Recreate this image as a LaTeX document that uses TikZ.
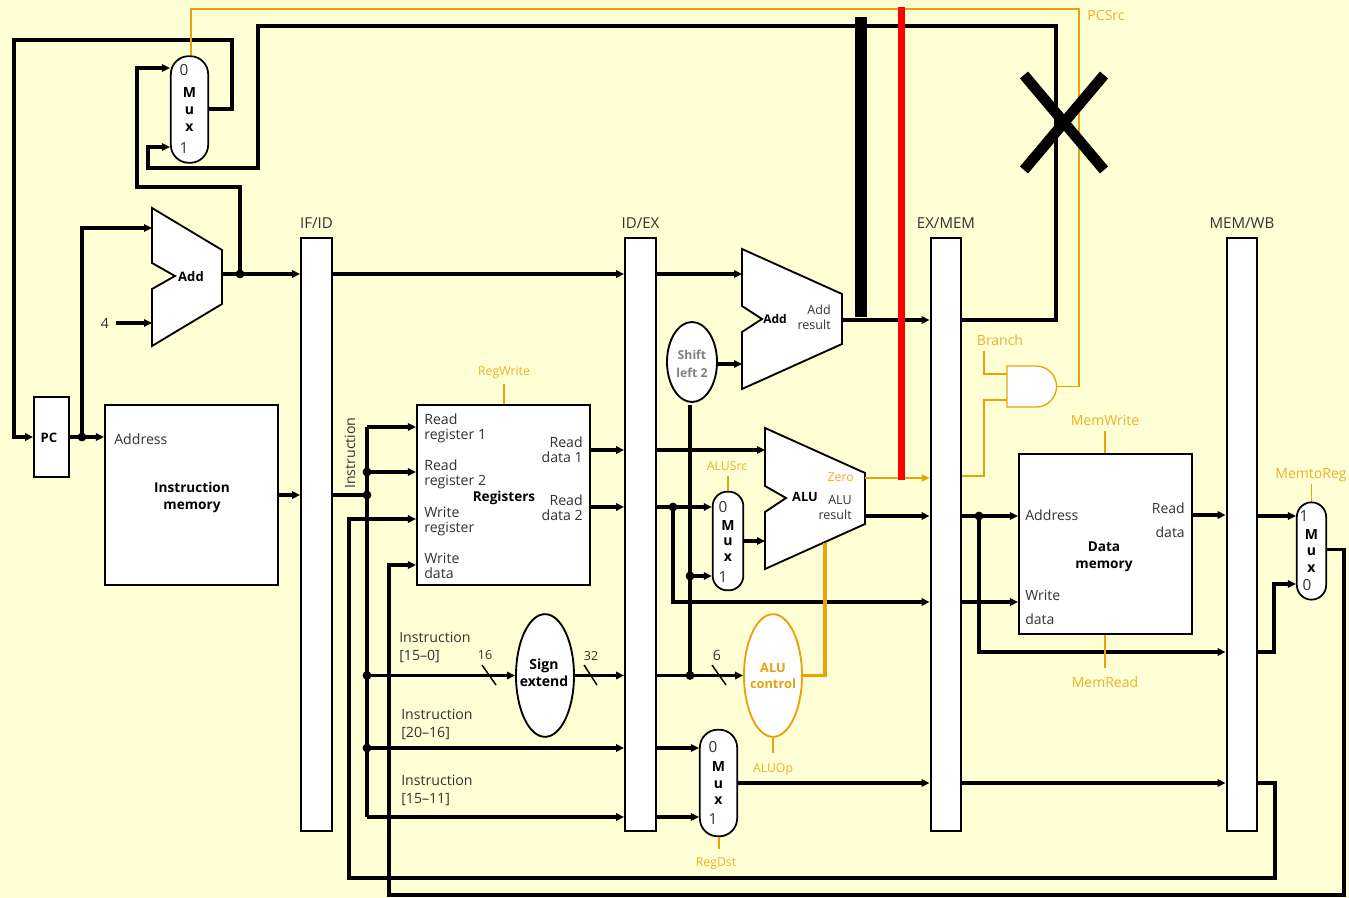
\documentclass[tikz,border=0pt]{standalone}
\usepackage{fontspec}
\setmainfont{Open Sans}
\usetikzlibrary{arrows.meta, shapes.geometric, calc}
\definecolor{paper}{RGB}{255,255,213}
\definecolor{ctrl}{RGB}{232,163,10}
\definecolor{ctrltext}{RGB}{238,176,40}
\definecolor{inktext}{RGB}{50,50,50}
\tikzset{
  wire/.style={draw=black, line width=2.3pt},
  wirearr/.style={wire, -{Triangle[length=6pt,width=5.5pt]}},
  fatwire/.style={draw=black, line width=3pt},
  fatarr/.style={fatwire, -{Triangle[length=6pt,width=5.5pt]}},
  ctrlwire/.style={draw=ctrl, line width=1pt},
  ctrlfat/.style={draw=ctrl, line width=2.6pt},
  slash/.style={draw=black, line width=1.1pt},
  dot/.style={circle, fill=black, inner sep=0pt, outer sep=-1.5pt, minimum size=6.6pt},
  pipereg/.style={draw=black, line width=1.6pt, fill=white, minimum width=23pt, minimum height=444.5pt, inner sep=0pt},
  unitbox/.style={draw=black, line width=1.6pt, fill=white, inner sep=0pt, minimum width=129.7pt, minimum height=135pt},
  unitpoly/.style={draw=black, line width=1.4pt, fill=white},
  muxbox/.style={draw=black, line width=1.3pt, fill=white, rounded corners=11pt, inner sep=0pt, minimum width=#1,
    align=center, font=\fontsize{10.5}{12.5}\selectfont\bfseries},
  ovalbox/.style={ellipse, draw=black, line width=1.4pt, fill=white, inner sep=0pt},
  lbl/.style={font=\fontsize{10.6}{11.3}\selectfont, text=inktext, inner sep=0pt, align=left},
  lblr/.style={lbl, align=right, anchor=east},
  lbll/.style={lbl, anchor=west},
  lblsm/.style={font=\fontsize{9.4}{11.3}\selectfont, text=inktext, inner sep=0pt, align=right, anchor=east},
  muxidx/.style={font=\fontsize{11.5}{12}\selectfont, text=inktext, inner sep=0pt},
  regname/.style={font=\fontsize{11.3}{12}\selectfont, text=inktext, inner sep=0pt},
  instrlbl/.style={lbll, font=\fontsize{10.6}{13.3}\selectfont},
  head/.style={font=\fontsize{10.2}{12.8}\selectfont\bfseries, text=black, inner sep=0pt, align=center},
  ctl/.style={font=\fontsize{10.5}{12}\selectfont, text=ctrltext, inner sep=0pt},
  ctlsm/.style={font=\fontsize{9.2}{12}\selectfont, text=ctrltext, inner sep=0pt}
}
\begin{document}
\begin{tikzpicture}[x=0.75pt, y=-0.75pt]
  \useasboundingbox (0,0) rectangle (1349,898);
  \fill[paper] (0,0) rectangle (1349,898);

  % pipeline registers
  \foreach \r/\x/\t in {ifid/316.5/IF\slash ID, idex/640.5/ID\slash EX, exmem/946/EX\slash MEM, memwb/1242/MEM\slash WB}{
    \node[pipereg] (\r) at (\x, 534.5) {};
    \node[regname] (\r lbl) at (\x, 223) {\t};
  }

  % boxes
  \node[draw=black, line width=1.6pt, fill=white, inner sep=0pt, minimum width=26pt, minimum height=60pt] (pc) at (51.5, 437) {};
  \node[head, font=\fontsize{9.8}{12}\selectfont\bfseries] (pctext) at (49, 438) {PC};
  \node[unitbox] (imem) at (191.5, 495) {};
  \node[unitbox] (regs) at (503.5, 495) {};
  \node[unitbox] (dmem) at (1105.5, 544) {};

  % adders and ALU
  \draw[unitpoly] (152,208) -- (222,250) -- (222,304) -- (152,346) -- (152,289) -- (175,276) -- (152,263) -- cycle;
  \draw[unitpoly] (742,249) -- (842,294) -- (842,344) -- (742,389) -- (742,332) -- (762,319) -- (742,306) -- cycle;
  \draw[unitpoly] (765,428) -- (865,473) -- (865,524) -- (765,569) -- (765,512) -- (786,498) -- (765,486) -- cycle;

  % ovals
  \node[ovalbox, minimum width=37.5pt, minimum height=60pt] (shift) at (692, 362) {};
  \node[head, text=gray, font=\fontsize{9.2}{13}\selectfont\bfseries] (shifttext) at (692, 364) {Shift\\left 2};
  \node[ovalbox, minimum width=43.5pt, minimum height=92pt] (signext) at (545, 675.5) {};
  \node[head, font=\fontsize{10.5}{12.8}\selectfont\bfseries] (signtext) at (544, 672.5) {Sign\\extend};
  \node[ovalbox, draw=ctrl, minimum width=43.5pt, minimum height=92pt] (aluctl) at (773, 675.5) {};
  \node[head, text=ctrl, font=\fontsize{9.6}{12}\selectfont\bfseries] (alutext) at (773, 675.5) {ALU\\control};

  % muxes
  \node[muxbox=28pt, minimum height=80pt, rounded corners=13.5pt] (muxpc) at (189.5, 109.5) {M\\u\\x};
  \node[muxbox=23pt, minimum height=74pt, font=\fontsize{10.5}{11.8}\selectfont\bfseries] (muxalu) at (728, 541) {M\\u\\x};
  \node[muxbox=28pt, minimum height=80pt, rounded corners=13.5pt] (muxdst) at (718.5, 783) {M\\u\\x};
  \node[muxbox=22pt, minimum height=73pt] (muxwb) at (1311.5, 551) {M\\u\\x};
  \foreach \n/\x/\y/\t in {mpc0/184/70/0, mpc1/184/148/1, mal0/723/507/0, mal1/723/577/1,
                           mds0/713/747/0, mds1/713/819/1, mwb1/1304/516/1, mwb0/1307/585/0}{
    \node[muxidx] (\n) at (\x, \y) {\t};
  }

  % and gate
  \draw[draw=ctrl, line width=1pt, fill=white] (1007,366) -- (1036,366) arc[start angle=90, end angle=-90, radius=15.4pt] -- (1007,407) -- cycle;
  \coordinate (andout) at (1056,386.5);
  \coordinate (andin1) at (1007,374);
  \coordinate (andin2) at (1007,400);

  % junctions
  \foreach \n/\x/\y in {jadd/240/274, jpc/82/437, jins/367/495, jrr/367/472, jimm/367/675.5, jrt/367/748,
                        jrd/673/507, jsl/690/675.5, jmx/690/576, jalu/979/516}{
    \node[dot] (\n) at (\x, \y) {};
  }

  % instruction fetch
  \draw[fatarr] (muxpc.east) -- (232,109.5) -- (232,40) -- (14,40) -- (14,437) -- (pc.west);
  \draw[fatarr] (exmem.east |- 0,320) -- (1056,320) -- (1056,26) -- (258,26) -- (258,168) -- (148,168) -- (148,147) -- (muxpc.west |- 0,147);
  \draw[wire] (222,274) -- (jadd);
  \draw[wirearr] (jadd) -- (ifid.west |- jadd);
  \draw[wirearr] (jadd) -- (240,187) -- (137,187) -- (137,68) -- (muxpc.west |- 0,68);
  \draw[wire] (pc.east) -- (jpc);
  \draw[wirearr] (jpc) -- (imem.west |- jpc);
  \draw[wirearr] (jpc) -- (82,228) -- (152,228);
  \node[lbl] (four) at (105, 323) {4};
  \draw[wirearr] (four.east)++(7,0) -- (152,323);
  \draw[wirearr] (imem.east |- 0,495) -- (ifid.west |- 0,495);

  % instruction decode
  \draw[wirearr] (ifid.east |- 0,274) -- (idex.west |- 0,274);
  \draw[wire] (ifid.east |- jins) -- (jins);
  \draw[wire] (367,427) -- (367,817);
  \draw[wirearr] (367,427) -- (regs.west |- 0,427);
  \draw[wirearr] (jrr) -- (regs.west |- jrr);
  \draw[wirearr] (jimm) -- (signext.west);
  \draw[wirearr] (jrt) -- (idex.west |- jrt);
  \draw[wirearr] (367,817) -- (idex.west |- 0,817);
  \draw[wirearr] (memwb.east |- 0,783) -- (1275,783) -- (1275,878) -- (349,878) -- (349,519) -- (regs.west |- 0,519);
  \draw[wirearr] (muxwb.east |- 0,549.5) -- (1344,549.5) -- (1344,895) -- (389,895) -- (389,565) -- (regs.west |- 0,565);
  \draw[wirearr] (regs.east |- 0,450) -- (idex.west |- 0,450);
  \draw[wirearr] (regs.east |- 0,507) -- (idex.west |- 0,507);
  \draw[wirearr] (signext.east) -- (idex.west |- signext.east);

  % execute
  \draw[wirearr] (idex.east |- 0,274) -- (742,274);
  \draw[wirearr] (idex.east |- 0,450) -- (765,450);
  \draw[wire] (idex.east |- jrd) -- (jrd);
  \draw[wirearr] (jrd) -- (muxalu.west |- jrd);
  \draw[wirearr] (jrd) -- (673,602) -- (exmem.west |- 0,602);
  \draw[wire] (idex.east |- jsl) -- (jsl);
  \draw[wirearr] (jsl) -- (aluctl.west);
  \draw[wire] (jsl) -- (690,405);
  \draw[wirearr] (jmx) -- (muxalu.west |- jmx);
  \draw[wirearr] (shift.east |- 0,364) -- (742,364);
  \draw[wirearr] (muxalu.east) -- (765,541);
  \draw[wirearr] (idex.east |- 0,748) -- (muxdst.west |- 0,748);
  \draw[wirearr] (idex.east |- 0,817) -- (muxdst.west |- 0,817);
  \draw[wirearr] (muxdst.east) -- (exmem.west |- muxdst.east);
  \draw[wirearr] (842,320) -- (exmem.west |- 0,320);
  \draw[wirearr] (865,516) -- (exmem.west |- 0,516);
  \draw[ctrlwire, -{Triangle[length=6pt,width=5.5pt]}] (865,478) -- (exmem.west |- 0,478);

  % memory and write back
  \draw[wire] (exmem.east |- jalu) -- (jalu);
  \draw[wirearr] (jalu) -- (dmem.west |- jalu);
  \draw[wirearr] (jalu) -- (979,652) -- (memwb.west |- 0,652);
  \draw[wirearr] (exmem.east |- 0,602) -- (dmem.west |- 0,602);
  \draw[wirearr] (exmem.east |- 0,783) -- (memwb.west |- 0,783);
  \draw[wirearr] (dmem.east |- 0,515) -- (memwb.west |- 0,515);
  \draw[wirearr] (memwb.east |- 0,516) -- (muxwb.west |- 0,516);
  \draw[wirearr] (memwb.east |- 0,652) -- (1274,652) -- (1274,584) -- (muxwb.west |- 0,584);

  % control lines
  \draw[ctrlwire] (andout) -- (1079,386.5) -- (1079,9) -- (191,9) -- (muxpc.north -| 191,0);
  \draw[ctrlwire] (984,351) -- (984,374) -- (andin1);
  \draw[ctrlwire] (exmem.east |- 0,476) -- (984,476) -- (984,400) -- (andin2);
  \draw[ctrlfat] (aluctl.east) -- (825,675.5) -- (825,543);
  \draw[ctrlwire] (504,384) -- (regs.north -| 504,0);
  \draw[ctrlwire] (1105,431) -- (dmem.north -| 1105,0);
  \draw[ctrlwire] (1105,668) -- (dmem.south -| 1105,0);
  \draw[ctrlwire] (1311.5,484) -- (muxwb.north);
  \draw[ctrlwire] (728,476) -- (muxalu.north);
  \draw[ctrlwire] (773,753) -- (aluctl.south);
  \draw[ctrlwire] (719,849) -- (muxdst.south -| 719,0);

  % bus width marks
  \draw[slash] (482,665) -- (496,685);
  \draw[slash] (584,665) -- (597,685);
  \draw[slash] (712,665) -- (726,685);
  \node[lblsm, anchor=center] (w16) at (485, 655) {16};
  \node[lblsm, anchor=center] (w32) at (591, 656) {32};
  \node[lbl] (w6) at (717, 655) {6};

  % texts
  \node[lbl, rotate=90] (instr) at (350, 453) {Instruction};
  \node[lbll] (imaddr) at (114, 439) {Address};
  \node[head] (imname) at (192, 497.5) {Instruction\\memory};
  \node[lbll] (rr1) at (424, 428.5) {Read\\register 1};
  \node[lbll] (rr2) at (424, 474.5) {Read\\register 2};
  \node[lbll] (wreg) at (424, 521.5) {Write\\register};
  \node[lbll] (wdat) at (424, 565.5) {Write\\data};
  \node[lblr] (rd1) at (583, 449.5) {Read\\data 1};
  \node[lblr] (rd2) at (583, 507.5) {Read\\data 2};
  \node[head] (regtext) at (504, 497.5) {Registers};
  \node[instrlbl] (i150) at (399, 647.5) {Instruction\\{[15--0]}};
  \node[instrlbl] (i2016) at (401, 724.5) {Instruction\\{[20--16]}};
  \node[instrlbl] (i1511) at (401, 790.5) {Instruction\\{[15--11]}};
  \node[head, font=\fontsize{9.8}{12}\selectfont\bfseries] (addname) at (191, 277) {Add};
  \node[head, font=\fontsize{9}{12}\selectfont\bfseries] (braname) at (775, 319) {Add};
  \node[lblsm] (addres) at (831, 317.5) {Add\\result};
  \node[head, font=\fontsize{9.6}{12}\selectfont\bfseries] (aluname) at (805, 497) {ALU};
  \node[lblsm] (alures) at (852, 507.5) {ALU\\result};
  \node[ctlsm, anchor=east] (zero) at (854, 477) {Zero};
  \node[lbll] (dmaddr) at (1025, 515) {Address};
  \node[lblr, font=\fontsize{10.5}{18}\selectfont] (dmread) at (1185, 520.5) {Read\\data};
  \node[head] (dmname) at (1104, 557) {Data\\memory};
  \node[lbll, font=\fontsize{10.5}{18}\selectfont] (dmwrite) at (1025, 607) {Write\\data};

  % control labels
  \node[ctl] (pcsrc) at (1106, 16) {PCSrc};
  \node[ctl] (branch) at (1000, 340) {Branch};
  \node[ctlsm] (regwrite) at (504, 372) {RegWrite};
  \node[ctlsm] (alusrc) at (727, 466) {ALUSrc};
  \node[ctlsm] (aluop) at (773, 769.5) {ALUOp};
  \node[ctlsm] (regdst) at (716, 863.5) {RegDst};
  \node[ctl] (memwrite) at (1105, 420) {MemWrite};
  \node[ctl] (memread) at (1105, 682) {MemRead};
  \node[ctl] (memtoreg) at (1311, 475) {MemtoReg};

  % marks over the finished diagram
  \draw[black, line width=8.5pt] (861,17) -- (861,317);
  \draw[red, line width=5.6pt] (901.5,7) -- (901.5,480);
  \draw[black, line width=8pt] (1024,75) -- (1104,170);
  \draw[black, line width=8pt] (1104,75) -- (1024,170);
\end{tikzpicture}
\end{document}
